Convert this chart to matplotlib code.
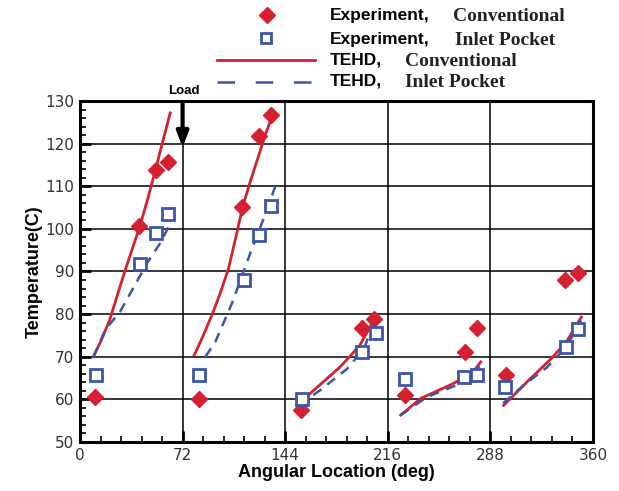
import numpy as np
import matplotlib.pyplot as plt
from matplotlib.ticker import MultipleLocator

RED = "#d42030"
BLUE = "#3c55a8"

# measured pad temperatures (deg, C)
exp_conv_x = [10.5, 41.7, 53.4, 62.1, 83.2, 113.7, 125.9, 134.1, 155.2, 198.1, 206.3,
              227.8, 270.0, 278.9, 299.0, 340.5, 349.5]
exp_conv_t = [60.6, 100.6, 113.8, 115.6, 60.0, 105.1, 121.7, 126.8, 57.6, 76.7, 78.8,
              61.0, 71.2, 76.7, 65.7, 88.0, 89.6]
exp_inlet_x = [11.2, 42.2, 53.4, 62.1, 83.2, 114.8, 125.4, 134.1, 155.9, 198.1, 207.5,
               227.8, 269.5, 278.9, 298.5, 341.0, 349.5]
exp_inlet_t = [65.7, 91.8, 99.0, 103.5, 65.7, 88.1, 98.6, 105.3, 60.2, 71.0, 75.5,
               64.7, 65.2, 65.7, 63.0, 72.4, 76.5]

# TEHD predictions, one curve per pad
tehd_conv = [
    ([9.4, 15.0, 21.0, 26.0, 31.6, 37.0, 42.0, 47.5, 53.0, 58.0, 63.3],
     [70.0, 73.9, 78.8, 84.2, 90.2, 95.6, 100.6, 107.0, 113.9, 120.4, 127.2]),
    ([80.2, 86.0, 92.6, 98.5, 104.3, 109.0, 113.7, 118.0, 122.3, 130.0, 134.8],
     [70.4, 74.6, 79.8, 85.0, 90.8, 97.5, 104.5, 109.5, 114.0, 122.0, 126.5]),
    ([152.3, 167.0, 182.8, 196.0, 206.3], [58.7, 63.0, 67.7, 72.5, 78.6]),
    ([225.0, 239.0, 260.0, 275.0, 281.2], [56.3, 60.2, 63.4, 66.0, 68.8]),
    ([297.3, 314.0, 330.8, 341.3, 351.8], [58.6, 64.2, 69.6, 73.5, 79.3]),
]
tehd_inlet = [
    ([9.4, 18.0, 28.0, 38.0, 48.0, 57.0, 65.0], [70.0, 76.5, 80.5, 86.5, 92.5, 97.0, 102.5]),
    ([88.0, 95.0, 106.7, 119.5, 127.7, 137.1], [70.0, 73.5, 82.6, 94.3, 101.4, 110.0]),
    ([153.5, 168.8, 187.5, 199.5, 204.2], [58.7, 62.2, 67.2, 72.0, 76.3]),
    ([225.0, 243.7, 264.9, 280.4], [56.3, 60.6, 63.4, 67.8]),
    ([296.9, 313.2, 327.3, 341.3, 353.0], [59.1, 63.8, 67.4, 72.3, 79.3]),
]

fig = plt.figure(figsize=(6.19, 4.91), dpi=100)
ax = fig.add_axes([80 / 619, 49 / 491, 513 / 619, 341 / 491])

for xs, ts in tehd_conv:
    ax.plot(xs, ts, color=RED, lw=2.0, zorder=3)
for xs, ts in tehd_inlet:
    ax.plot(xs, ts, color=BLUE, lw=1.8, dashes=(4, 3), zorder=3)
ax.plot(exp_conv_x, exp_conv_t, "D", color=RED, ms=8, ls="none", zorder=4)
ax.plot(exp_inlet_x, exp_inlet_t, "s", mfc="white", mec=BLUE, mew=2, ms=8, ls="none", zorder=4)

ax.set_xlim(0, 360)
ax.set_ylim(50, 130)
ax.xaxis.set_major_locator(MultipleLocator(72))
ax.xaxis.set_minor_locator(MultipleLocator(14.4))
ax.yaxis.set_major_locator(MultipleLocator(10))
ax.yaxis.set_minor_locator(MultipleLocator(2))
ax.tick_params(which="major", direction="in", length=8, width=2, labelsize=11,
               colors="black", pad=4)
ax.tick_params(which="minor", direction="in", length=4, width=1.2)
ax.tick_params(axis="both", labelcolor="#333333")
ax.grid(True, which="major", color="black", lw=1.1)
for s in ax.spines.values():
    s.set_linewidth(2.2)

ax.set_xlabel("Angular Location (deg)", fontsize=13, fontweight="bold",
              family="Liberation Sans", labelpad=1)
ax.set_ylabel("Temperature(C)", fontsize=13, fontweight="bold",
              family="Liberation Sans", labelpad=2)

# load direction arrow at the 72 deg line
ax.annotate("", xy=(72, 118.5), xytext=(72, 130.3),
            arrowprops=dict(arrowstyle="-|>,head_width=0.35,head_length=0.9",
                            color="black", lw=3), annotation_clip=False, zorder=5)
ax.text(73, 131, "Load", ha="center", va="bottom", fontsize=9.5, fontweight="bold",
        family="Liberation Sans")

# legend drawn in pixel coordinates above the axes
lax = fig.add_axes([0, 0, 1, 1], facecolor="none")
lax.set_xlim(0, 619)
lax.set_ylim(491, 0)
lax.axis("off")
lax.plot([267], [15], "D", color=RED, ms=8)
lax.plot([266], [38], "s", mfc="white", mec=BLUE, mew=2, ms=7.5)
lax.plot([217, 315], [60, 60], color=RED, lw=2)
lax.plot([217, 315], [82, 82], color=BLUE, lw=1.8, dashes=(7, 8.3))

rows = [(15, "Experiment,", "Conventional", 453),
        (39, "Experiment,", "Inlet Pocket", 455),
        (60, "TEHD,", "Conventional", 405),
        (81, "TEHD,", "Inlet Pocket", 405)]
for y, head, tail, xt in rows:
    lax.text(330, y, head, fontsize=12.5, fontweight="bold", family="Liberation Sans",
             va="center", ha="left")
    lax.text(xt, y + 1, tail, fontsize=14, fontweight="bold", family="Liberation Serif",
             va="center", ha="left", color="#222222")

fig.savefig("out.png", dpi=100)
